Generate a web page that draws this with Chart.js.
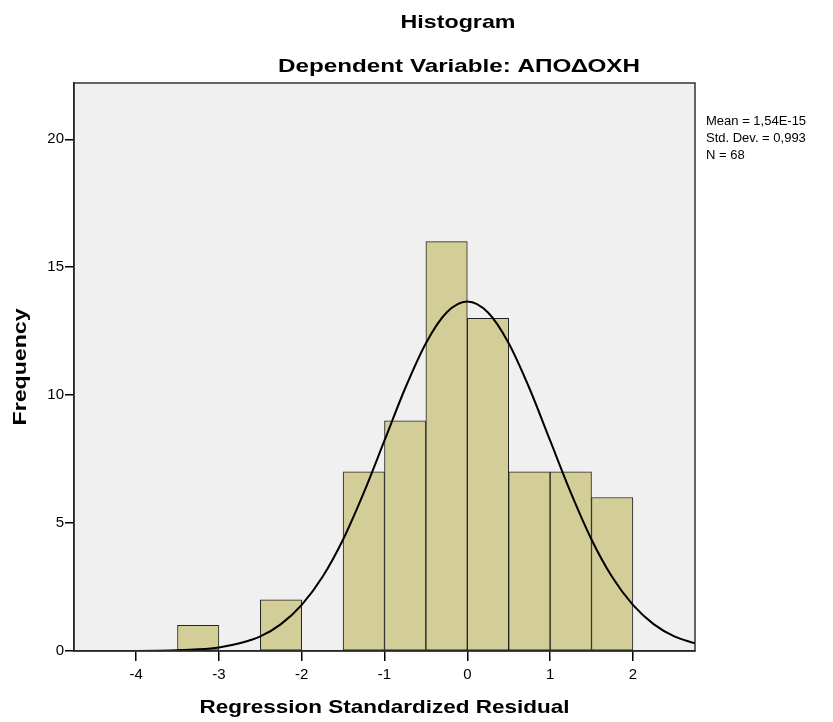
<!DOCTYPE html>
<html>
<head>
<meta charset="utf-8">
<script src="https://cdn.jsdelivr.net/npm/chart.js@4/dist/chart.umd.min.js"></script>
<style>
  html, body { margin: 0; padding: 0; background: #fff; }
  #wrap { width: 833px; height: 722px; }
</style>
</head>
<body>
<div id="wrap"><canvas id="histChart" width="833" height="722"></canvas></div>
<script>
// bin centres (width 0.5) and counts
const binCenters = [-3.25, -2.25, -1.25, -0.75, -0.25, 0.25, 0.75, 1.25, 1.75];
const binCounts  = [1, 2, 7, 9, 16, 13, 7, 7, 6];

// normal curve
const curveX = [-4.75, -4.5, -4.25, -4, -3.75, -3.5, -3.25, -3, -2.75, -2.5, -2.25, -2, -1.75, -1.5, -1.25, -1,
                -0.75, -0.5, -0.25, 0, 0.25, 0.5, 0.75, 1, 1.25, 1.5, 1.75, 2, 2.25, 2.5, 2.75];
const curveY = [0, 0, 0.001, 0.004, 0.011, 0.027, 0.064, 0.14, 0.30, 0.57, 1.05, 1.80, 2.89, 4.36, 6.19, 8.23,
                10.27, 12.03, 13.23, 13.66, 13.23, 12.03, 10.27, 8.23, 6.19, 4.36, 2.89, 1.80, 1.05, 0.57, 0.30];

const xTicks = [-4, -3, -2, -1, 0, 1, 2];
const yTicks = [0, 5, 10, 15, 20];

const titleLines = ['Histogram', 'Dependent Variable: ΑΠΟΔΟΧΗ'];
const xTitle = 'Regression Standardized Residual';
const yTitle = 'Frequency';
const statLines = ['Mean = 1,54E-15', 'Std. Dev. = 0,993', 'N = 68'];

const FONT = '"Liberation Sans", Arial, sans-serif';

// SPSS text is a bit wider than Arial: draw it stretched to the width seen in the picture
function wideText(ctx, text, x, y, width, rot) {
  const w = ctx.measureText(text).width;
  ctx.save();
  ctx.translate(x, y);
  if (rot) ctx.rotate(rot);
  ctx.scale(width / w, 1);
  ctx.fillText(text, 0, 0);
  ctx.restore();
}

const spssDecor = {
  id: 'spssDecor',
  beforeDraw(chart) {
    const { ctx, chartArea: a } = chart;
    ctx.save();
    ctx.fillStyle = '#f0f0f0';
    ctx.fillRect(a.left, a.top, a.right - a.left, a.bottom - a.top);
    ctx.restore();
  },
  afterDraw(chart) {
    const { ctx, chartArea: a } = chart;
    ctx.save();
    ctx.strokeStyle = '#333';
    ctx.lineWidth = 1.5;
    ctx.strokeRect(a.left, a.top, a.right - a.left, a.bottom - a.top);

    ctx.fillStyle = '#000';
    ctx.textAlign = 'center';
    ctx.textBaseline = 'alphabetic';
    ctx.font = 'bold 18.5px ' + FONT;
    wideText(ctx, titleLines[0], 458, 28, 115);
    wideText(ctx, titleLines[1], 459, 72, 362);

    const cx = (a.left + a.right) / 2, cy = (a.top + a.bottom) / 2;
    wideText(ctx, xTitle, cx, 713, 370);
    wideText(ctx, yTitle, 26, cy, 117, -Math.PI / 2);

    ctx.textAlign = 'left';
    ctx.textBaseline = 'middle';
    ctx.font = '13px ' + FONT;
    statLines.forEach((s, i) => ctx.fillText(s, 706, 121 + i * 17));
    ctx.restore();
  }
};

new Chart(document.getElementById('histChart').getContext('2d'), {
  type: 'bar',
  data: {
    datasets: [{
      type: 'line',
      data: curveX.map((x, i) => ({ x: x, y: curveY[i] })),
      borderColor: '#000',
      borderWidth: 2,
      pointRadius: 0,
      cubicInterpolationMode: 'monotone',
      fill: false,
      order: 0
    }, {
      type: 'bar',
      data: binCenters.map((x, i) => ({ x: x, y: binCounts[i] })),
      backgroundColor: '#d3ce98',
      borderColor: '#222',
      borderWidth: 1,
      borderSkipped: false,
      barPercentage: 1,
      categoryPercentage: 1,
      order: 1
    }]
  },
  options: {
    responsive: false,
    animation: false,
    layout: { padding: { left: 0, right: 138, top: 83, bottom: 0 } },
    plugins: { legend: { display: false }, tooltip: { enabled: false }, title: { display: false } },
    scales: {
      x: {
        type: 'linear',
        offset: false,
        min: -4.75,
        max: 2.75,
        afterBuildTicks: s => { s.ticks = xTicks.map(v => ({ value: v })); },
        afterFit: s => { s.height = 71; },
        grid: { offset: false, drawOnChartArea: false, drawTicks: true, tickLength: 10, color: '#000', lineWidth: 1.5 },
        border: { display: true, color: '#000', width: 1.5 },
        ticks: { color: '#000', font: { family: FONT, size: 15 }, padding: 5, maxRotation: 0 }
      },
      y: {
        min: 0,
        max: 22.2,
        afterBuildTicks: s => { s.ticks = yTicks.map(v => ({ value: v })); },
        afterFit: s => { s.width = 74; },
        grid: { drawOnChartArea: false, drawTicks: true, tickLength: 9, color: '#000', lineWidth: 1.5 },
        border: { display: true, color: '#000', width: 1.5 },
        ticks: { color: '#000', font: { family: FONT, size: 15 }, padding: 1 }
      }
    }
  },
  plugins: [spssDecor]
});
</script>
</body>
</html>
